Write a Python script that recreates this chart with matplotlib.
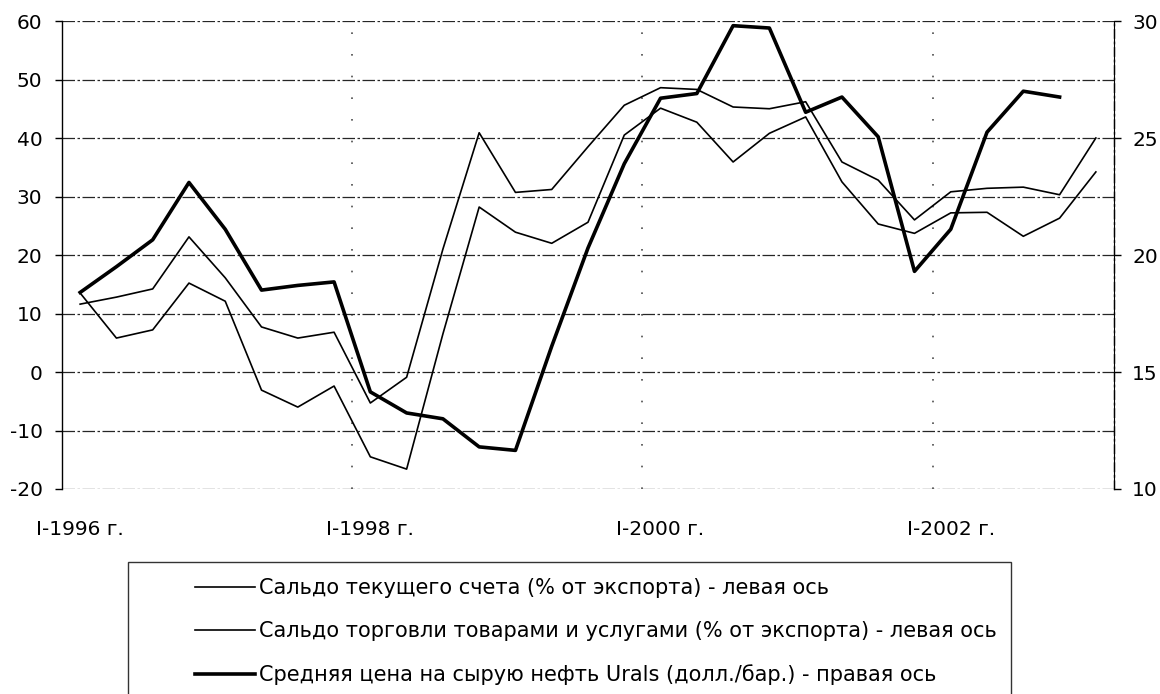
import matplotlib
matplotlib.use("Agg")
import matplotlib.pyplot as plt
from matplotlib.patches import Rectangle

plt.rcParams['font.family'] = ['DejaVu Sans']
plt.rcParams['axes.unicode_minus'] = False

# quarters I-1996 .. I-2003
quarters = [f"{q}-{y} г." for y in range(1996, 2004) for q in ("I", "II", "III", "IV")][:29]
tick_labels = ["I-1996 г.", "I-1998 г.", "I-2000 г.", "I-2002 г."]

# current account balance, % of exports (left axis)
current_account = [13.5, 5.8, 7.2, 15.2, 12.1, -3.1, -6.0, -2.4, -14.5, -16.6,
                   6.5, 28.2, 23.9, 22.0, 25.6, 40.5, 45.1, 42.7, 35.9, 40.8,
                   43.6, 32.5, 25.3, 23.7, 27.2, 27.3, 23.2, 26.3, 34.2]

# balance of trade in goods and services, % of exports (left axis)
trade_balance = [11.6, 12.8, 14.2, 23.1, 16.1, 7.7, 5.8, 6.8, -5.3, -0.9,
                 21.0, 40.9, 30.7, 31.2, 38.5, 45.6, 48.6, 48.3, 45.3, 45.0,
                 46.2, 35.9, 32.8, 26.0, 30.8, 31.4, 31.6, 30.3, 40.0]

# Urals crude price, USD/bbl (right axis), up to IV-2002
urals_price = [18.4, 19.5, 20.65, 23.1, 21.1, 18.5, 18.7, 18.85, 14.15, 13.25,
               13.0, 11.8, 11.65, 16.1, 20.3, 23.9, 26.7, 26.9, 29.8, 29.7,
               26.1, 26.75, 25.05, 19.3, 21.1, 25.25, 27.0, 26.75]

labels = ["Сальдо текущего счета (% от экспорта) - левая ось",
          "Сальдо торговли товарами и услугами (% от экспорта) - левая ось",
          "Средняя цена на сырую нефть Urals (долл./бар.) - правая ось"]

W, H = 1160, 694
fig = plt.figure(figsize=(W / 100, H / 100), dpi=100)
ax = fig.add_axes([62 / W, 1 - 489 / H, (1114 - 62) / W, (489 - 21) / H])
ax2 = ax.twinx()

x = list(range(len(quarters)))
l1, = ax.plot(x, current_account, color='black', lw=1.2)
l2, = ax.plot(x, trade_balance, color='black', lw=1.2)
l3, = ax2.plot(x[:len(urals_price)], urals_price, color='black', lw=2.6)

ax.set_xlim(-0.5, len(quarters) - 0.5)
ax.set_ylim(-20, 60)
ax.set_yticks(range(-20, 61, 10))
ax2.set_ylim(10, 30)
ax2.set_yticks(range(10, 31, 5))

ax.set_xticks([quarters.index(t) for t in tick_labels])
ax.set_xticklabels(tick_labels)
ax.tick_params(axis='x', length=0, pad=22, labelsize=14.5)
ax.tick_params(axis='y', length=5, width=1, pad=9, labelsize=14.5)
ax2.tick_params(axis='y', length=5, width=1, pad=8, labelsize=14.5)

# horizontal grid
ax.yaxis.grid(True, color='0.15', lw=0.9, linestyle=(0, (10, 2, 2, 2)))
# vertical dotted lines at category tick marks
for xv in (7.5, 15.5, 23.5):
    ax.axvline(xv, color='0.3', lw=1.2, linestyle=(0, (1, 12)), zorder=0)

for a in (ax, ax2):
    a.spines['top'].set_visible(False)
    a.spines['bottom'].set_visible(False)
ax2.spines['left'].set_visible(False)
ax.spines['left'].set_linewidth(1.0)
ax2.spines['right'].set_linewidth(1.0)
ax2.spines['right'].set_linestyle((0, (6, 3, 1, 3)))

# legend frame (runs off the bottom of the picture)
fig.patches.append(Rectangle((128 / W, -0.05), (1011 - 128) / W, 1 - 562 / H + 0.05,
                             transform=fig.transFigure, fill=False,
                             edgecolor='0.2', lw=1.0))
fig.legend([l1, l2, l3], labels, loc='upper left',
           bbox_to_anchor=(195 / W, 1 - 578 / H), frameon=False,
           fontsize=15, handlelength=2.9, handletextpad=0.15,
           labelspacing=1.12, borderpad=0, borderaxespad=0)

fig.savefig("out.png", dpi=100)
